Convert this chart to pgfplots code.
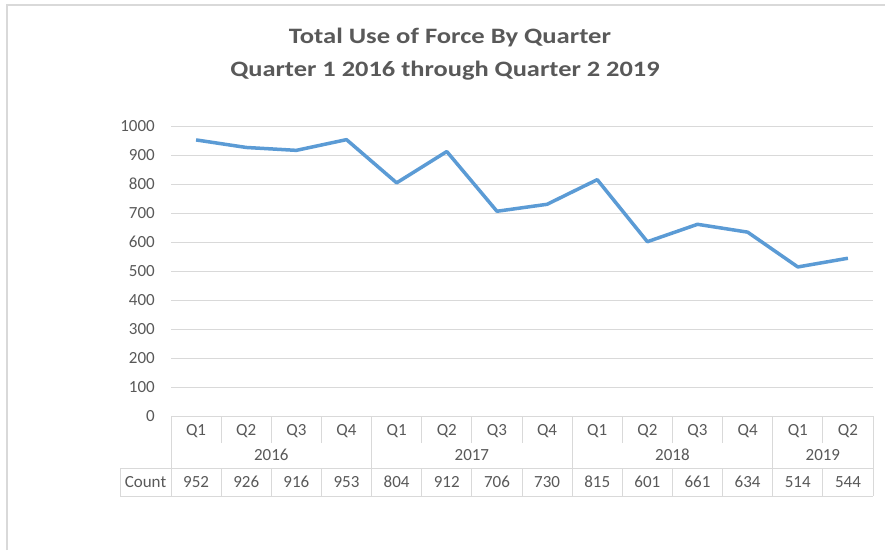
\documentclass[border=0pt]{standalone}
\usepackage{pgfplots}
\pgfplotsset{compat=1.18}
\usepackage{pgfplotstable}
\usepackage{fontspec}
\setmainfont{Carlito}
\definecolor{txt}{HTML}{595959}
\definecolor{grd}{HTML}{D9D9D9}
\definecolor{ser}{HTML}{5B9BD5}
\pgfplotstableread{
x y
0 952
1 926
2 916
3 953
4 804
5 912
6 706
7 730
8 815
9 601
10 661
11 634
12 514
13 544
}\datatable
\begin{document}
\begin{tikzpicture}[x=1pt,y=1pt]
\useasboundingbox (0,0) rectangle (885,550);
\fill[white] (0,0) rectangle (885,550);
\draw[grd, line width=1.5pt] (7,0) -- (7,545) -- (885,545);
\node[txt, font=\fontsize{22}{26}\bfseries\selectfont, inner sep=0pt] at (450,512) {\scalebox{1.21}[1]{Total Use of Force By Quarter}};
\node[txt, font=\fontsize{22}{26}\bfseries\selectfont, inner sep=0pt] at (445,479) {\scalebox{1.2}[1]{Quarter 1 2016 through Quarter 2 2019}};
\begin{axis}[at={(171pt,134pt)}, anchor=south west, scale only axis,
  width=702pt, height=290pt,
  xmin=-0.5, xmax=13.5, ymin=0, ymax=1000,
  ytick={0,100,...,1000}, xtick=\empty,
  ymajorgrids, grid style={grd, line width=1pt},
  axis line style={draw=none}, major tick length=0pt,
  yticklabel style={txt, font=\fontsize{17}{20}\selectfont, anchor=east, inner sep=0pt, xshift=-16pt},
  /pgf/number format/assume math mode=true,
  /pgf/number format/1000 sep={},
  clip=false]
\addplot[ser, line width=3.5pt, line join=round, mark=none] table[x=x,y=y]{\datatable};
\end{axis}
% data table
\begin{scope}[grd, line width=1pt]
\draw (171,134) -- (873,134);
\foreach \i in {1,2,3,5,6,7,9,10,11,13} {
  \pgfmathsetmacro\xx{171+\i*702/14}
  \draw (\xx,134) -- (\xx,107);
}
\foreach \i in {0,4,8,12,14} {
  \pgfmathsetmacro\xx{171+\i*702/14}
  \draw (\xx,134) -- (\xx,82);
}
\foreach \i in {0,...,14} {
  \pgfmathsetmacro\xx{171+\i*702/14}
  \draw (\xx,82) -- (\xx,54);
}
\draw (120,82) -- (873,82);
\draw (120,54) -- (873,54);
\draw (120,82) -- (120,54);
\end{scope}
\begin{scope}[txt, font=\fontsize{17}{20}\selectfont]
\foreach \q [count=\i from 0] in {Q1,Q2,Q3,Q4,Q1,Q2,Q3,Q4,Q1,Q2,Q3,Q4,Q1,Q2} {
  \pgfmathsetmacro\xx{171+(\i+0.5)*702/14}
  \node at (\xx,119) {\q};
}
\foreach \v [count=\i from 0] in {952,926,916,953,804,912,706,730,815,601,661,634,514,544} {
  \pgfmathsetmacro\xx{171+(\i+0.5)*702/14}
  \node at (\xx,68) {\v};
}
\foreach \yr/\a/\b in {2016/0/4, 2017/4/8, 2018/8/12, 2019/12/14} {
  \pgfmathsetmacro\xx{171+(\a+\b)/2*702/14}
  \node at (\xx,95) {\yr};
}
\node at (145.5,68) {Count};
\end{scope}
\end{tikzpicture}
\end{document}
